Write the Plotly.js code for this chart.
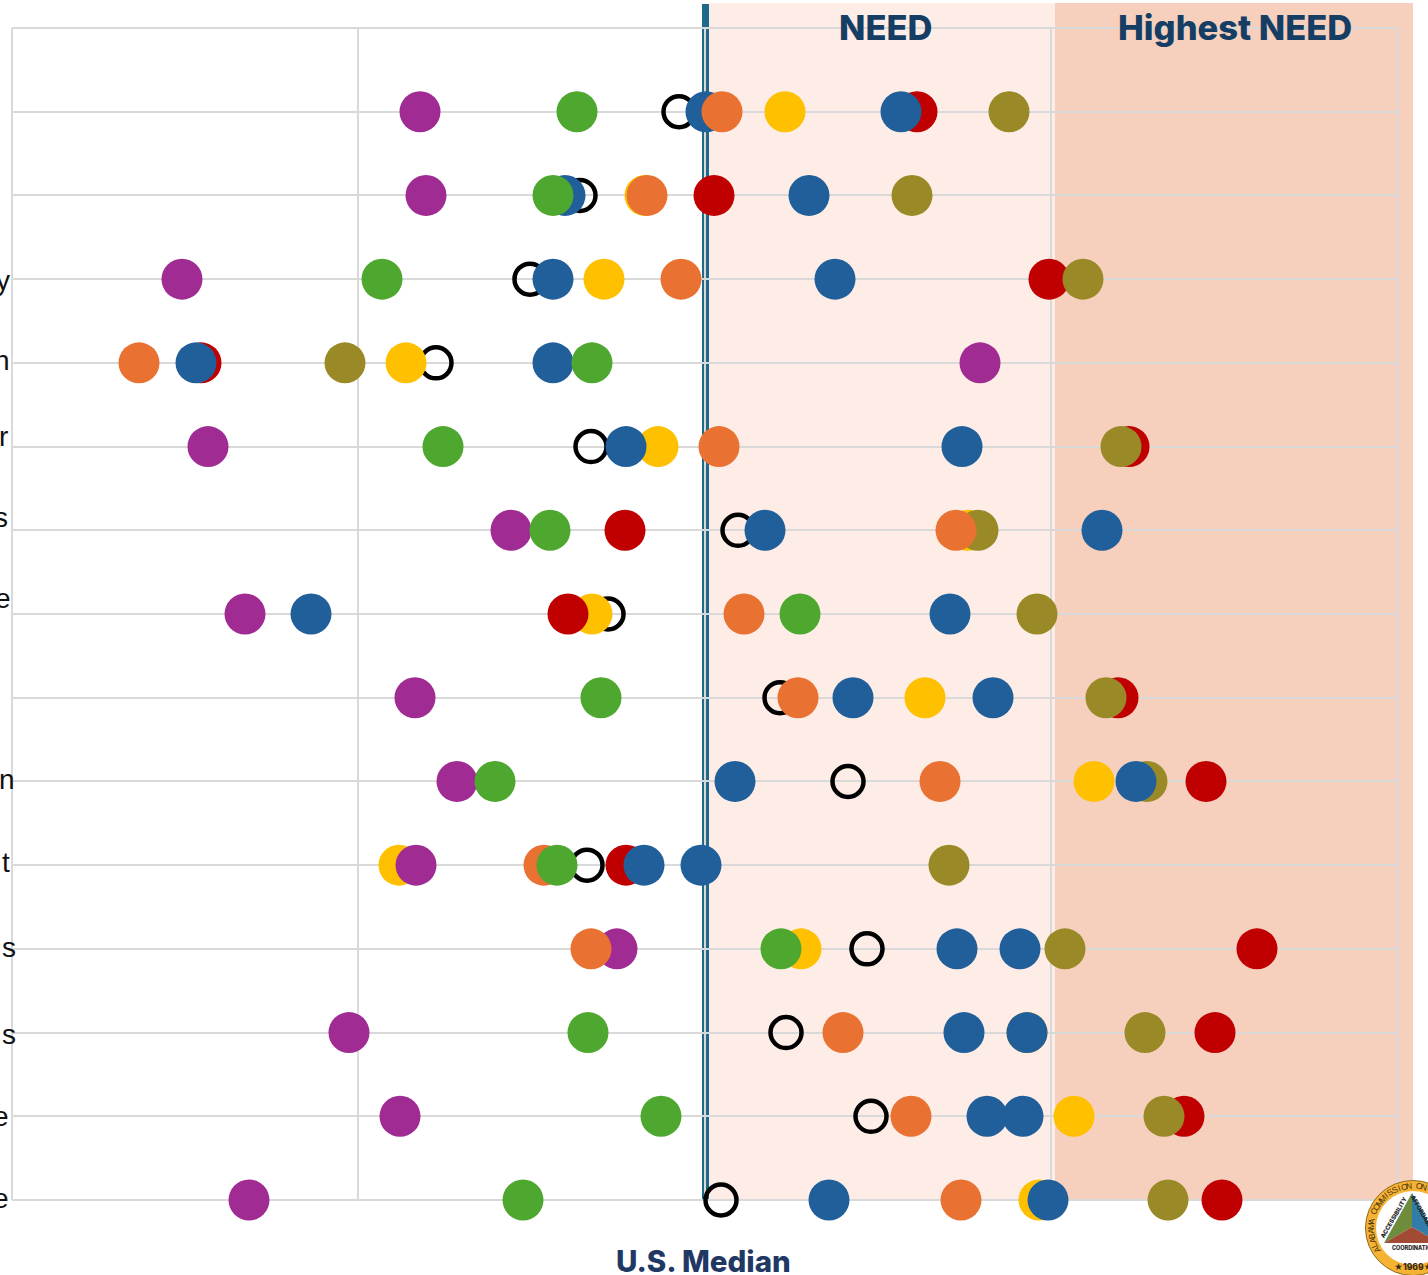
<!DOCTYPE html>
<html>
<head>
<meta charset="utf-8">
<script src="https://cdn.plot.ly/plotly-3.0.1.min.js"></script>
<style>html,body{margin:0;padding:0;background:#fff;overflow:hidden}#chart{width:1428px;height:1275px}</style>
</head>
<body>
<div id="chart"></div>
<script>
// Row position of every category (0 is the empty top band)
const rows = [1,2,3,4,5,6,7,8,9,10,11,12,13,14];

// Series values, distance from the U.S. median (one major grid step = 346.25)
const benchmark = [-26,-125,-175,-269,-114,33,-97,75,143,-118,162,81,166,16];
const yellowVals = [80,-60,-101,-299,-47,263,-113,220,389,-306,96,322,369,334];
const redVals = [212,9,344,-504,424,-80,-137,413,501,-79,552,510,479,517];
const oliveVals = [304,207,378,-360,416,273,332,401,442,244,360,440,459,463];
const blueAVals = [1,-140,-152,-509,-79,60,-394,148,30,-61,252,259,282,124];
const blueBVals = [196,104,130,-152,257,397,245,288,431,-4,315,322,318,343];
const purpleVals = [-285,-279,-523,275,-497,-194,-460,-290,-248,-289,-88,-356,-305,-456];
const orangeVals = [17,-58,-24,-566,14,251,39,93,235,-161,-114,138,206,256];
const greenVals = [-128,-152,-323,-113,-262,-155,95,-104,-210,-148,76,-117,-44,-182];

// Visible ends of the row labels, which run off the page on the left
const labelEnds = ['y','n','r','s','e','n','t','s','s','e','e'];
const labelRows = [3,4,5,6,7,9,10,11,12,13,14];
const labelShift = [-1,2,10,13,16,2,3,1,-2,0,2];
const labelRight = [10,10,8,8,11,15,10,16,16,9,9];

const sealText = 'ALABAMA COMMISSION ON H';

const W = 1386, H = 1172, L = 12, T = 28;
const fx = p => (p - L) / W;
const fy = p => (T + H - p) / H;

function dots(name, x, color) {
  return {type:'scatter', mode:'markers', name, x, y:rows, cliponaxis:false, hoverinfo:'x+y',
          marker:{symbol:'circle', size:41, color, line:{width:0}}};
}
const traces = [
  {type:'scatter', mode:'markers', name:'Benchmark', x:benchmark, y:rows, cliponaxis:false,
   marker:{symbol:'circle-open', size:31, color:'#000000', line:{width:4.5, color:'#000000'}}},
  dots('Yellow', yellowVals, '#FFC000'),
  dots('Red', redVals, '#C00000'),
  dots('Olive', oliveVals, '#998A27'),
  dots('Blue A', blueAVals, '#215F9A'),
  dots('Blue B', blueBVals, '#215F9A'),
  dots('Purple', purpleVals, '#A02B93'),
  dots('Orange', orangeVals, '#E97132'),
  dots('Green', greenVals, '#4EA72E')
];

function rect(x0,x1,y0,y1,color){
  return {type:'rect', layer:'below', xref:'paper', yref:'paper',
          x0:fx(x0), x1:fx(x1), y0:fy(y1), y1:fy(y0), fillcolor:color, line:{width:0}};
}
function frame(x0,y0,x1,y1){
  return {type:'line', layer:'below', xref:'paper', yref:'paper',
          x0:fx(x0), x1:fx(x1), y0:fy(y0), y1:fy(y1), line:{width:2, color:'#D9D9D9'}};
}
function circle(cx,cy,r,color,lineColor){
  return {type:'circle', layer:'above', xref:'paper', yref:'paper',
          x0:fx(cx-r), x1:fx(cx+r), y0:fy(cy+r), y1:fy(cy-r), fillcolor:color,
          line:{width:lineColor?1:0, color:lineColor||color}};
}
function poly(pts,color){
  return {type:'path', layer:'above', xref:'paper', yref:'paper', fillcolor:color, line:{width:0},
          path:'M'+pts.map(p=>fx(p[0])+','+fy(p[1])).join('L')+'Z'};
}
const apex=[1412,1193], lft=[1384,1243], rgt=[1440,1243], mid=[1412,1227];
const shapes = [
  rect(709,1055,3,1200,'#FDEDE6'),
  rect(1055,1413,3,1200,'#F6D0BD'),
  rect(702,709,4,1200,'#1F6A8A'),
  frame(12,28,1397.5,28),
  frame(12,1200,1397.5,1200),
  frame(12,28,12,1200),
  frame(1397.5,28,1397.5,1200),
  circle(1413,1228,47.5,'#F6B233','#8a6a20'),
  circle(1413,1228,37,'#FFFFFF'),
  poly([apex,lft,mid],'#6F8B3C'),
  poly([apex,rgt,mid],'#2F7DA8'),
  poly([lft,rgt,mid],'#A24A33')
];

function note(text,px,py,size,color,opts){
  return Object.assign({text, xref:'paper', yref:'paper', x:fx(px), y:fy(py), showarrow:false,
    xanchor:'center', yanchor:'middle', borderpad:0, borderwidth:0,
    font:{family:'Inter, "Open Sans", sans-serif', size, color, weight:800}}, opts||{});
}
const annotations = [
  note('NEED',885,27.5,34.5,'#163E64'),
  note('Highest NEED',1235,27.5,34.5,'#163E64'),
  note('U.S. Median',703,1260.5,29.5,'#1F3864')
];
labelEnds.forEach((t,i)=>{
  const rowPx = T + labelRows[i] * H / 14;
  annotations.push(note(t, labelRight[i], rowPx - labelShift[i], 28, '#111111',
    {xanchor:'right', font:{family:'"Liberation Sans", Arial, sans-serif', size:28, color:'#111111'}}));
});
// Seal lettering
[...sealText].forEach((c,i)=>{
  const deg = -121 + i * 6.8, rad = deg * Math.PI / 180;
  annotations.push(note(c, 1413 + 42.3 * Math.sin(rad), 1228 - 42.3 * Math.cos(rad), 8.5, '#4a3510',
    {textangle:deg, font:{family:'"Liberation Sans", Arial, sans-serif', size:8.5, color:'#4a3510'}}));
});
annotations.push(note('★1969★',1413,1267,8.5,'#3a2a10'));
annotations.push(note('ACCESSIBILITY',1393,1217,6,'#222222',{textangle:-60}));
annotations.push(note('COORDINATION',1413,1248,5.5,'#222222'));
annotations.push(note('AFFORDABILITY',1425,1216,6,'#222222',{textangle:60}));

const layout = {
  width:1428, height:1275, showlegend:false,
  paper_bgcolor:'#FFFFFF', plot_bgcolor:'rgba(0,0,0,0)',
  margin:{l:L, r:1428-L-W, t:T, b:1275-T-H, pad:0},
  xaxis:{range:[-693,693], tick0:-0.5, dtick:346.25, showgrid:true, gridcolor:'#D9D9D9', gridwidth:2,
         zeroline:false, showline:false, showticklabels:false, ticks:''},
  yaxis:{range:[14,0], tick0:0, dtick:1, showgrid:true, gridcolor:'#D9D9D9', gridwidth:2,
         zeroline:false, showline:false, showticklabels:false, ticks:''},
  shapes, annotations
};
Plotly.newPlot('chart', traces, layout, {displayModeBar:false, responsive:false});
</script>
</body>
</html>
